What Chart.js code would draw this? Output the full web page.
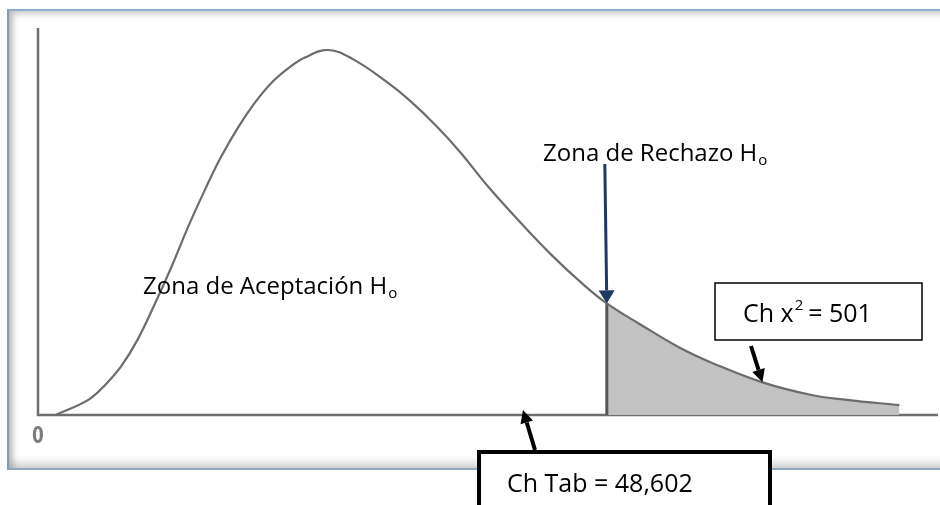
<!DOCTYPE html>
<html>
<head>
<meta charset="utf-8">
<script src="https://cdn.jsdelivr.net/npm/chart.js@4.4.1/dist/chart.umd.min.js"></script>
<style>
  body { margin: 0; background: #fff; }
  .wrap { position: relative; width: 940px; height: 505px; overflow: hidden; }
  .frame {
    position: absolute; left: 7px; top: 9px; width: 940px; height: 457px;
    border-top: 2px solid #8fb0cc; border-left: 2px solid #7f9db5; border-bottom: 2px solid #8ea9bf;
    box-shadow: inset 4px 3px 6px rgba(0,0,0,.22), inset 0 -6px 7px rgba(0,0,0,.16);
  }
  .box { position: absolute; left: 0; top: 0; width: 940px; height: 505px; }
</style>
</head>
<body>
<div class="wrap">
  <div class="frame"></div>
  <div class="box"><canvas id="chi"></canvas></div>
</div>
<script>
// chi-square density curve (x = statistic, y = density x 1000)
let curveX = [1.5, 4.3, 5.7, 7.1, 8.5, 10.0, 11.4, 12.8, 14.3, 15.6, 17.1, 18.5, 19.9, 21.4, 22.8, 24.8,
              26.9, 29.8, 31.8, 34.1, 36.1, 38.4, 41.2, 44.0, 46.3, 48.602, 51.4, 54.8, 57.7, 61.9, 66.2, 69.1, 73.6]
let curveY = [0, 2.0, 3.9, 6.4, 9.9, 14.7, 19.5, 24.7, 29.8, 33.9, 37.9, 41.1, 43.7, 45.7, 47.1, 48.1,
              46.9, 43.9, 41.4, 38.0, 34.6, 30.2, 25.4, 20.9, 17.6, 14.7, 12.0, 8.9, 6.8, 4.3, 2.6, 2.0, 1.3]
let chTab = 48.602
let chCalc = 501
let xMax = 76.9
let yMax = 51
let tickLabels = ['0']

let curve = curveX.map((x, i) => ({ x: x, y: curveY[i] }))
let tail = curve.filter(p => p.x >= chTab)
let critY = curveY[curveX.indexOf(chTab)]

const font = '"Open Sans", "Noto Sans", sans-serif'

function textH0(ctx, txt, x, y, size) {
  ctx.font = size + 'px ' + font
  ctx.fillText(txt, x, y)
  let w = ctx.measureText(txt).width
  ctx.font = Math.round(size * 0.62) + 'px ' + font
  ctx.fillText('o', x + w + 1, y + 4)
}

function arrow(ctx, x1, y1, x2, y2, color, lw, hw, hl) {
  let a = Math.atan2(y2 - y1, x2 - x1)
  let bx = x2 - hl * Math.cos(a), by = y2 - hl * Math.sin(a)
  ctx.strokeStyle = color
  ctx.fillStyle = color
  ctx.lineWidth = lw
  ctx.beginPath()
  ctx.moveTo(x1, y1)
  ctx.lineTo(bx, by)
  ctx.stroke()
  ctx.beginPath()
  ctx.moveTo(x2, y2)
  ctx.lineTo(bx + hw / 2 * Math.sin(a), by - hw / 2 * Math.cos(a))
  ctx.lineTo(bx - hw / 2 * Math.sin(a), by + hw / 2 * Math.cos(a))
  ctx.closePath()
  ctx.fill()
}

const axesPlugin = {
  id: 'axesLines',
  beforeDatasetsDraw(chart) {
    const { ctx, scales: { x, y } } = chart
    ctx.save()
    ctx.strokeStyle = '#6e6e6e'
    ctx.lineWidth = 2.5
    ctx.beginPath()
    ctx.moveTo(x.getPixelForValue(0), y.getPixelForValue(yMax))
    ctx.lineTo(x.getPixelForValue(0), y.getPixelForValue(0))
    ctx.lineTo(x.getPixelForValue(xMax), y.getPixelForValue(0))
    ctx.stroke()
    // zero tick, a bit stretched vertically like the old bitmap font
    ctx.fillStyle = '#7c7c7c'
    ctx.font = 'bold 17px "DejaVu Sans", sans-serif'
    ctx.textAlign = 'center'
    let zx = x.getPixelForValue(0), zy = y.getPixelForValue(0) + 28
    ctx.translate(zx, zy)
    ctx.scale(1, 1.3)
    ctx.fillText(tickLabels[0], 0, 0)
    ctx.restore()
  }
}

const notesPlugin = {
  id: 'notes',
  afterDraw(chart) {
    const { ctx, scales: { x, y } } = chart
    ctx.save()
    ctx.fillStyle = '#000'
    ctx.textAlign = 'left'
    ctx.textBaseline = 'alphabetic'

    textH0(ctx, 'Zona de Rechazo H', 543, 161, 24)
    textH0(ctx, 'Zona de Aceptación H', 143, 294, 24)

    // critical value arrow
    let cx = x.getPixelForValue(chTab), cy = y.getPixelForValue(critY)
    arrow(ctx, cx - 2, 164, cx, cy, '#203864', 3, 16, 13)

    // calculated statistic box
    ctx.strokeStyle = '#000'
    ctx.lineWidth = 1.5
    ctx.fillStyle = '#fff'
    ctx.fillRect(715, 283, 207, 57)
    ctx.strokeRect(715, 283, 207, 57)
    ctx.fillStyle = '#000'
    ctx.font = '25px ' + font
    ctx.fillText('Ch x', 743, 322)
    let w = ctx.measureText('Ch x').width
    ctx.font = '15px ' + font
    ctx.fillText('2', 743 + w + 1, 310)
    ctx.font = '25px ' + font
    ctx.fillText(' = ' + chCalc, 743 + w + 8, 322)
    arrow(ctx, 751, 346, x.getPixelForValue(61.9), y.getPixelForValue(4.3), '#000', 4, 13, 13)

    // table value box
    ctx.fillStyle = '#fff'
    ctx.fillRect(479, 452, 291, 60)
    ctx.strokeRect(479, 452, 291, 60)
    ctx.fillStyle = '#000'
    ctx.font = '25px ' + font
    ctx.fillText('Ch Tab = ' + String(chTab).replace('.', ','), 507, 492)
    arrow(ctx, 535, 450, 523, y.getPixelForValue(0) - 5, '#000', 4, 13, 13)
    ctx.restore()
  }
}

new Chart(document.getElementById('chi'), {
  type: 'line',
  data: {
    datasets: [
      {
        label: 'curve',
        data: curve,
        borderColor: '#6c6c6c',
        borderWidth: 2.2,
        pointRadius: 0,
        tension: 0.4,
        fill: false,
        order: 1
      },
      {
        label: 'rechazo',
        data: tail,
        borderWidth: 0,
        borderColor: 'rgba(0,0,0,0)',
        backgroundColor: '#c2c2c2',
        pointRadius: 0,
        tension: 0.4,
        fill: 'origin',
        order: 3
      },
      {
        label: 'critico',
        data: [{ x: chTab, y: 0 }, { x: chTab, y: critY }],
        borderColor: '#555',
        borderWidth: 3,
        pointRadius: 0,
        fill: false,
        order: 2
      }
    ]
  },
  options: {
    responsive: true,
    maintainAspectRatio: false,
    animation: false,
    layout: { padding: { left: 38, right: 2, top: 28, bottom: 90 } },
    plugins: { legend: { display: false }, tooltip: { enabled: false } },
    scales: {
      x: { type: 'linear', min: 0, max: xMax, display: false },
      y: { type: 'linear', min: 0, max: yMax, display: false }
    }
  },
  plugins: [axesPlugin, notesPlugin]
})
</script>
</body>
</html>
